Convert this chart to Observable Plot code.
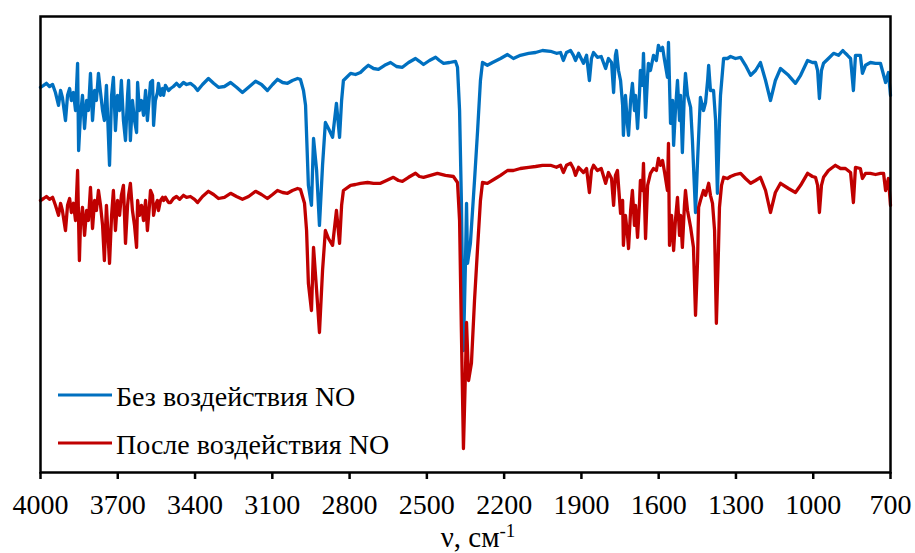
<!DOCTYPE html>
<html>
<head>
<meta charset="utf-8">
<script src="https://cdn.jsdelivr.net/npm/d3@7"></script>
<script src="https://cdn.jsdelivr.net/npm/@observablehq/plot@0.6"></script>
<style>
  html, body { margin: 0; padding: 0; background: #fff; }
  .wrap { font-family: 'Liberation Serif', 'Times New Roman', Tinos, 'DejaVu Serif', serif; color: #000; }
</style>
</head>
<body>
<div class="wrap" id="wrap"></div>
<script>
// x ticks (wavenumber, cm^-1)
const xTicks = [4000, 3700, 3400, 3100, 2800, 2500, 2200, 1900, 1600, 1300, 1000, 700];

// series names
const seriesNames = ["Без воздействия NO", "После воздействия NO"];
const seriesColors = ["#0070C0", "#C00000"];
const serifStack = "'Liberation Serif', 'Times New Roman', Tinos, 'DejaVu Serif', serif";

// Series 1: without NO exposure (wavenumber, relative transmittance)
const blueNu = [
  4000,3988,3977,3965,3953,3942,3930,3922,3915,3903,
  3895,3887,3880,3872,3864,3856,3852,3845,3837,3829,
  3821,3814,3806,3798,3790,3783,3775,3767,3759,3752,
  3744,3732,3724,3717,3709,3701,3693,3686,3678,3670,
  3662,3658,3651,3643,3635,3627,3623,3616,3608,3600,
  3592,3585,3577,3573,3565,3561,3554,3546,3542,3534,
  3526,3522,3515,3503,3495,3484,3472,3460,3445,3433,
  3418,3402,3390,3371,3348,3328,3309,3286,3262,3239,
  3216,3192,3165,3142,3119,3099,3080,3060,3041,3022,
  3002,2991,2979,2971,2960,2948,2940,2928,2917,2905,
  2894,2882,2866,2851,2839,2831,2824,2796,2777,2758,
  2742,2727,2707,2688,2664,2641,2618,2595,2571,2544,
  2529,2513,2490,2466,2451,2435,2412,2389,2381,2373,
  2366,2358,2350,2346,2342,2331,2315,2303,2292,2284,
  2265,2245,2214,2187,2164,2137,2105,2078,2051,2020,
  1997,1981,1970,1958,1942,1931,1923,1911,1892,1880,
  1869,1861,1853,1838,1823,1806,1795,1783,1775,1768,
  1764,1756,1748,1740,1737,1729,1721,1717,1709,1702,
  1694,1690,1682,1674,1671,1663,1659,1651,1643,1640,
  1632,1620,1609,1601,1593,1585,1577,1566,1562,1554,
  1546,1542,1535,1527,1519,1515,1508,1500,1496,1488,
  1476,1469,1457,1449,1438,1426,1418,1410,1406,1399,
  1387,1379,1372,1364,1360,1348,1333,1321,1302,1282,
  1263,1243,1224,1205,1185,1166,1147,1127,1096,1069,
  1049,1022,1003,991,983,976,968,960,941,921,
  902,885,875,867,855,844,836,817,809,797,
  778,758,739,719,708,700
];
const blueT = [
  96.3,96.8,97.3,96.5,97.0,95.0,91.8,95.5,93.8,88.0,
  94.3,96.0,93.0,95.0,90.5,102.3,80.5,89.3,94.3,86.0,
  93.0,90.5,99.8,88.0,95.5,93.0,99.8,95.0,90.5,88.0,
  96.8,76.8,94.3,98.8,85.5,94.3,90.5,98.0,88.0,83.0,
  94.3,98.0,83.0,93.0,88.0,85.0,97.5,90.5,93.0,89.3,
  95.5,88.0,94.3,97.5,98.0,86.8,93.0,95.0,97.3,94.3,
  96.0,94.3,96.8,95.5,96.0,96.5,97.3,96.5,97.5,97.0,
  97.3,96.5,95.5,97.0,98.5,97.3,96.3,96.5,97.5,96.3,
  95.0,96.3,97.8,97.0,95.5,97.0,98.3,97.5,97.3,98.0,
  98.5,98.3,95.5,91.8,71.8,66.8,83.5,75.5,61.8,76.8,
  87.5,86.0,83.8,92.3,83.8,93.0,98.0,99.8,99.5,100.0,
  101.0,101.8,101.0,100.8,101.8,102.5,101.5,101.3,102.5,103.5,
  102.8,102.0,103.0,103.8,103.0,102.3,102.5,102.8,101.3,90.5,
  68.0,30.5,53.0,67.3,52.3,57.3,73.0,85.5,98.0,102.5,
  101.8,102.5,103.5,104.5,103.5,104.3,104.8,105.0,105.5,105.3,
  104.8,105.0,103.0,105.0,105.5,104.3,103.0,104.8,102.3,104.3,
  98.0,103.5,105.0,103.8,104.0,101.0,103.5,102.5,95.0,104.3,
  105.5,100.5,98.0,91.8,84.3,94.3,86.8,84.3,93.0,97.3,
  90.5,94.3,86.0,95.5,100.5,96.8,104.8,88.8,99.3,102.3,
  100.5,104.3,103.0,106.8,105.5,106.3,103.0,98.8,107.5,87.3,
  93.0,81.8,90.5,98.0,88.0,94.3,80.0,95.5,99.8,94.3,
  91.3,83.0,65.0,78.0,93.8,90.5,92.5,98.0,101.8,95.5,
  95.5,88.0,69.8,88.0,94.3,103.5,103.5,104.0,103.5,103.8,
  101.8,99.3,100.5,102.5,98.0,93.0,98.0,101.0,99.3,97.3,
  99.3,103.0,102.5,102.5,100.5,93.5,100.5,102.3,103.5,104.8,
  104.3,105.5,104.8,104.3,103.5,95.5,104.3,104.3,99.8,101.8,
  102.5,102.3,102.3,97.5,100.0,94.3
];

// Series 2: after NO exposure
const redNu = [
  4000,3988,3977,3965,3953,3942,3930,3922,3915,3903,
  3895,3887,3880,3872,3864,3856,3849,3845,3837,3829,
  3821,3814,3806,3798,3790,3783,3775,3767,3759,3752,
  3744,3732,3724,3717,3709,3701,3693,3686,3678,3670,
  3662,3658,3651,3643,3635,3627,3623,3616,3608,3600,
  3592,3585,3577,3573,3565,3561,3554,3546,3542,3534,
  3526,3522,3515,3503,3495,3484,3472,3460,3445,3433,
  3418,3402,3390,3371,3348,3328,3309,3286,3262,3239,
  3216,3192,3165,3142,3119,3099,3080,3060,3041,3022,
  3002,2991,2975,2967,2960,2948,2940,2928,2917,2905,
  2894,2882,2866,2851,2839,2831,2824,2796,2777,2758,
  2730,2707,2680,2657,2630,2610,2595,2571,2544,2529,
  2513,2486,2459,2428,2397,2381,2373,2366,2358,2350,
  2346,2338,2327,2315,2303,2292,2284,2265,2234,2214,
  2187,2164,2137,2105,2078,2051,2020,1997,1981,1970,
  1958,1942,1931,1923,1911,1892,1880,1869,1861,1853,
  1838,1823,1806,1795,1783,1775,1768,1760,1756,1748,
  1740,1737,1729,1721,1717,1709,1702,1694,1690,1682,
  1674,1671,1663,1659,1651,1643,1632,1620,1609,1601,
  1593,1585,1577,1566,1562,1558,1550,1542,1535,1527,
  1519,1515,1508,1500,1496,1488,1476,1465,1457,1449,
  1445,1438,1426,1418,1406,1399,1391,1383,1376,1368,
  1364,1356,1348,1333,1321,1302,1282,1263,1243,1224,
  1205,1185,1166,1147,1127,1096,1069,1049,1022,1003,
  991,983,976,968,960,941,914,894,875,855,
  844,836,817,809,797,778,758,739,727,719,
  708,700
];
const redT = [
  68.0,68.5,69.0,68.3,68.8,66.8,64.3,67.3,65.5,60.5,
  66.8,68.5,65.0,67.3,63.0,75.5,53.0,61.8,66.3,59.3,
  65.5,63.0,71.3,61.0,68.0,65.5,70.5,66.8,61.8,53.0,
  66.8,52.3,64.3,70.5,60.5,68.0,64.3,69.3,71.8,57.3,
  66.8,69.3,72.3,65.5,61.8,56.3,68.0,64.3,66.8,63.0,
  68.0,60.5,66.8,70.5,69.3,64.3,66.8,68.0,65.5,68.0,
  68.8,68.0,68.8,67.5,67.5,68.5,69.0,68.3,69.3,68.8,
  69.0,68.3,67.5,69.0,70.3,69.5,68.5,68.8,69.8,69.0,
  68.3,69.0,70.3,69.5,68.5,69.5,70.5,70.0,69.8,70.5,
  71.0,70.8,67.3,60.5,47.3,40.5,56.3,45.5,35.0,50.5,
  60.5,58.5,56.8,65.5,57.3,66.8,70.5,71.8,72.0,72.3,
  72.5,72.3,72.3,73.0,73.8,73.0,72.8,73.8,74.8,74.0,
  73.8,74.3,74.8,74.3,74.0,72.5,63.0,35.5,6.0,25.5,
  37.5,23.0,27.3,43.0,56.3,68.0,72.5,72.3,73.5,74.3,
  75.5,75.5,76.0,76.3,76.5,76.8,76.8,76.3,76.8,75.0,
  76.8,77.3,76.0,74.3,76.3,75.0,76.0,70.0,75.5,76.8,
  75.5,76.0,72.3,75.0,73.5,66.8,74.3,75.5,71.8,64.8,
  68.0,56.8,64.3,59.3,56.0,65.5,70.5,61.8,66.8,58.8,
  68.0,73.0,70.5,77.3,58.5,71.8,74.8,76.0,75.5,78.5,
  76.8,78.0,75.0,70.5,82.3,56.8,64.3,55.5,63.0,68.8,
  59.3,64.3,56.3,66.8,70.5,65.5,61.3,56.3,39.3,53.0,
  66.3,68.0,70.5,69.3,72.3,69.3,67.3,60.5,37.3,55.5,
  66.3,71.8,73.8,73.5,74.0,74.5,74.8,73.5,72.3,73.0,
  73.8,70.5,65.0,70.0,72.3,71.0,70.0,71.8,74.8,74.0,
  73.8,71.8,65.0,71.8,73.8,75.5,76.8,76.0,76.0,75.0,
  67.5,76.3,76.0,73.5,74.8,74.8,74.5,74.8,74.8,70.5,
  73.5,66.8
];

const blueData = blueNu.map((nu, i) => ({nu, t: blueT[i]}));
const redData = redNu.map((nu, i) => ({nu, t: redT[i]}));

const chart = Plot.plot({
  width: 915,
  height: 553,
  marginLeft: 40,
  marginRight: 25,
  marginTop: 16,
  marginBottom: 81,
  style: {
    fontFamily: serifStack,
    fontSize: "28px",
    color: "#000",
    background: "#fff"
  },
  x: {domain: [4000, 700], label: null},
  y: {domain: [0, 114], axis: null},
  marks: [
    Plot.line(blueData, {x: "nu", y: "t", stroke: seriesColors[0], strokeWidth: 3.3, strokeLinejoin: "round"}),
    Plot.line(redData, {x: "nu", y: "t", stroke: seriesColors[1], strokeWidth: 3.3, strokeLinejoin: "round"}),
    Plot.frame({stroke: "#000", strokeWidth: 2.5}),
    Plot.axisX({ticks: xTicks, tickSize: 7, tickPadding: 15, strokeWidth: 2.5, tickFormat: d => String(d), label: null})
  ]
});

document.getElementById("wrap").appendChild(chart);

// legend inside the plot area (bottom-left) and x-axis title, as SVG text
const svg = d3.select(chart);
const legendY = [395, 443];
const lg = svg.append("g")
  .style("font-family", serifStack)
  .attr("font-size", 28)
  .attr("text-anchor", "start");
seriesNames.forEach((name, i) => {
  lg.append("line")
    .attr("x1", 58).attr("x2", 112)
    .attr("y1", legendY[i]).attr("y2", legendY[i])
    .attr("stroke", seriesColors[i]).attr("stroke-width", 3);
  lg.append("text")
    .attr("x", 116).attr("y", legendY[i] + 10.5)
    .attr("text-anchor", "start")
    .attr("fill", "#000")
    .text(name);
});

const title = svg.append("text")
  .style("font-family", serifStack)
  .attr("font-size", 29)
  .attr("fill", "#000")
  .attr("text-anchor", "middle")
  .attr("x", 478).attr("y", 547);
title.append("tspan").text("ν, см");
title.append("tspan").attr("font-size", 19).attr("dy", -10).text("-1");
</script>
</body>
</html>
